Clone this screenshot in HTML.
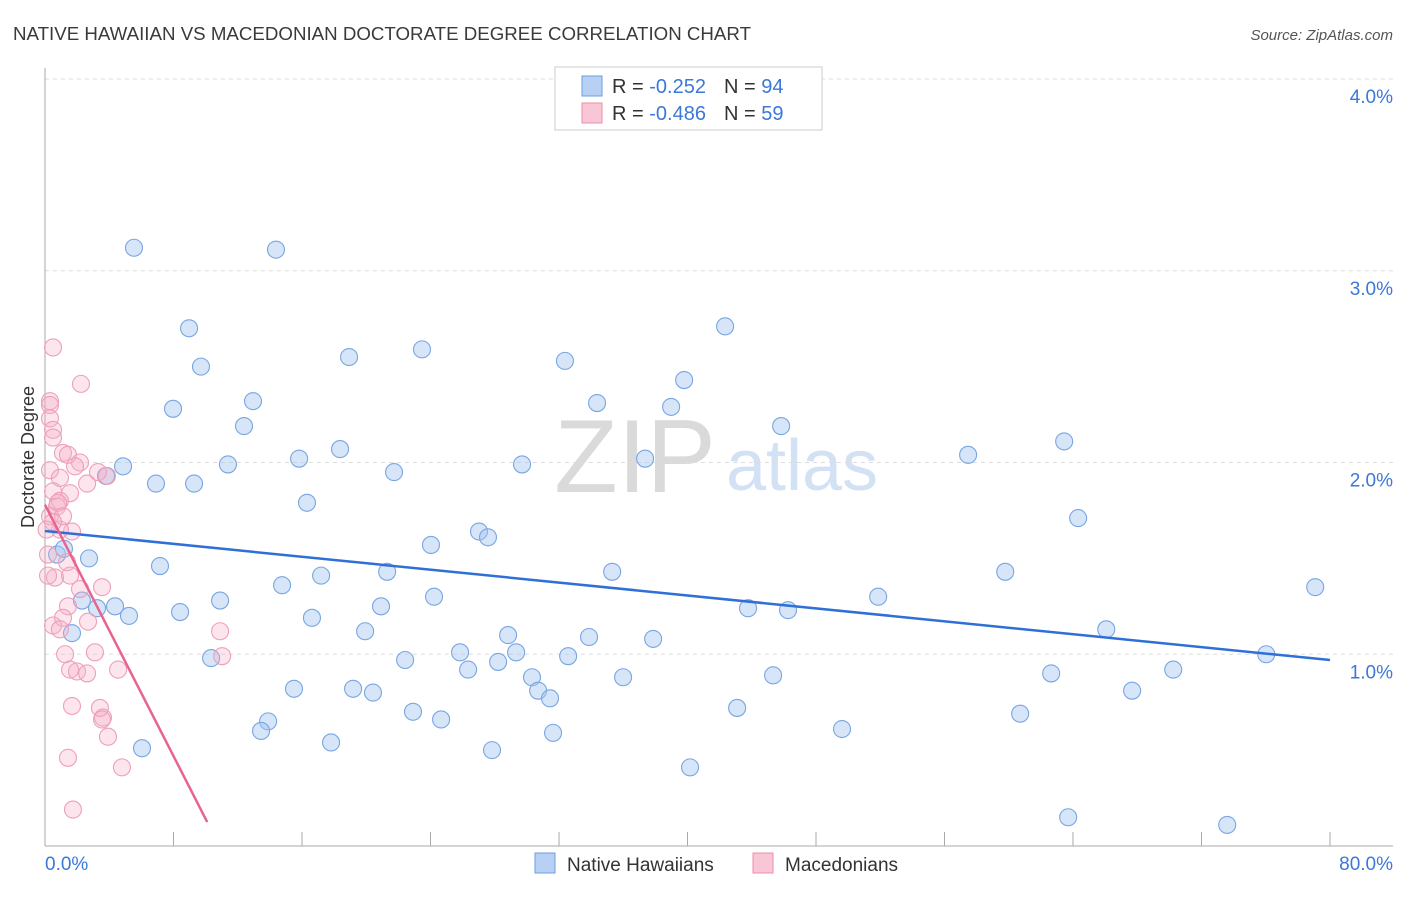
<!DOCTYPE html>
<html><head><meta charset="utf-8"><style>
body{margin:0;background:#fff;font-family:"Liberation Sans",sans-serif}
svg text{font-family:"Liberation Sans",sans-serif}
</style></head><body>
<svg id="c" width="1406" height="892" xmlns="http://www.w3.org/2000/svg">
<text x="13" y="40" font-size="18" fill="#3a3a3a" textLength="738" lengthAdjust="spacingAndGlyphs">NATIVE HAWAIIAN VS MACEDONIAN DOCTORATE DEGREE CORRELATION CHART</text>
<text x="1393" y="40" font-size="15" font-style="italic" fill="#555" text-anchor="end">Source: ZipAtlas.com</text>
<text x="635" y="492" font-size="104" font-family="Liberation Serif" fill="#dadada" text-anchor="middle">ZIP</text>
<text x="802" y="490" font-size="72" fill="#d3e1f5" text-anchor="middle">atlas</text>
<g id="grid"></g>
<g id="pts"></g>
<g id="lines"></g>
<text transform="translate(34,457) rotate(-90)" font-size="18" fill="#333" text-anchor="middle">Doctorate Degree</text>
<g>
<rect x="555" y="67" width="267" height="63" fill="#fff" stroke="#ccc"/>
<rect x="582" y="76" width="20" height="20" fill="#b8d0f4" stroke="#6a9fe0"/>
<rect x="582" y="103" width="20" height="20" fill="#f9c6d6" stroke="#eb8fae"/>
<text x="612" y="93" font-size="20" fill="#333">R = <tspan fill="#3b78d8">-0.252</tspan><tspan dx="18">N = </tspan><tspan fill="#3b78d8">94</tspan></text>
<text x="612" y="120" font-size="20" fill="#333">R = <tspan fill="#3b78d8">-0.486</tspan><tspan dx="18">N = </tspan><tspan fill="#3b78d8">59</tspan></text>
</g>
<g>
<rect x="535" y="853" width="20" height="20" fill="#b8d0f4" stroke="#6a9fe0"/>
<text x="567" y="871" font-size="19" fill="#333">Native Hawaiians</text>
<rect x="753" y="853" width="20" height="20" fill="#f9c6d6" stroke="#eb8fae"/>
<text x="785" y="871" font-size="19" fill="#333">Macedonians</text>
</g>
</svg>
<script>
const yTicks=[1,2,3,4];
const xTickVals=[0,8,16,24,32,40,48,56,64,72,80];
const blueX=[5.54,14.38,8.97,9.71,7.97,12.95,12.39,4.86,6.91,9.28,11.39,15.82,18.37,18.93,23.47,16.31,21.73,29.70,32.37,34.37,37.36,38.98,39.79,42.34,45.83,57.47,63.45,64.32,24.03,27.02,27.58,21.30,17.19,14.76,7.16,2.74,0.75,1.18,2.30,3.24,4.36,5.23,1.68,8.41,10.90,16.62,20.92,24.22,19.93,10.34,22.42,25.84,26.34,28.21,28.83,29.33,32.57,33.87,35.31,37.86,30.32,30.70,31.44,35.99,43.77,46.26,45.33,51.87,43.09,49.62,59.78,66.07,62.64,70.24,67.68,76.03,79.08,60.71,15.50,19.18,20.42,13.89,13.45,17.81,22.91,24.66,31.63,27.83,40.16,6.04,63.70,73.60,3.80];
const blueY=[3.12,3.11,2.70,2.50,2.28,2.32,2.19,1.98,1.89,1.89,1.99,2.02,2.07,2.55,2.59,1.79,1.95,1.99,2.53,2.31,2.02,2.29,2.43,2.71,2.19,2.04,2.11,1.71,1.57,1.64,1.61,1.43,1.41,1.36,1.46,1.50,1.52,1.55,1.28,1.24,1.25,1.20,1.11,1.22,1.28,1.19,1.25,1.30,1.12,0.98,0.97,1.01,0.92,0.96,1.10,1.01,0.99,1.09,1.43,1.08,0.88,0.81,0.77,0.88,1.24,1.23,0.89,1.30,0.72,0.61,1.43,1.13,0.90,0.92,0.81,1.00,1.35,0.69,0.82,0.82,0.80,0.65,0.60,0.54,0.70,0.66,0.59,0.50,0.41,0.51,0.15,0.11,1.93];
const pinkX=[0.50,2.24,0.31,0.31,0.31,0.50,0.50,1.12,1.43,2.18,1.87,0.31,0.93,3.86,3.30,2.62,1.56,0.50,0.93,0.75,0.31,0.81,1.68,0.93,1.12,0.50,1.37,1.56,0.62,3.55,2.18,1.43,1.12,0.50,0.93,2.68,10.90,11.03,3.11,1.25,1.56,1.99,2.62,4.55,1.68,3.42,3.61,3.55,3.92,1.43,4.79,1.74,0.19,0.19,0.10];
const pinkY=[2.60,2.41,2.32,2.30,2.23,2.17,2.13,2.05,2.04,2.00,1.98,1.96,1.92,1.93,1.95,1.89,1.84,1.85,1.80,1.77,1.72,1.79,1.64,1.65,1.72,1.69,1.48,1.41,1.40,1.35,1.34,1.25,1.19,1.15,1.13,1.17,1.12,0.99,1.01,1.00,0.92,0.91,0.90,0.92,0.73,0.72,0.67,0.66,0.57,0.46,0.41,0.19,1.52,1.41,1.65];
const blueTrend=[1.643,0.970];
const pinkTrend=[1.78,0.125];
const pinkTrendEndX=10.1;
const X=v=>45+v*(1285/80), Y=v=>846-v*191.75;
const NS="http://www.w3.org/2000/svg";
function mk(t,a,p){const e=document.createElementNS(NS,t);for(const k in a)e.setAttribute(k,a[k]);p.appendChild(e);return e;}
const g=document.getElementById('grid');
yTicks.forEach(v=>{
 const l=mk('line',{x1:45,x2:1393,y1:Y(v),y2:Y(v),stroke:'#ddd','stroke-dasharray':'4,4'},g);
 
 
 const t=mk('text',{x:1393,y:Y(v)+24,'font-size':19,fill:'#3b78d8','text-anchor':'end'},g);
 t.textContent=v.toFixed(1)+'%';
 
 
});
const ax=mk('line',{x1:45,x2:1393,y1:846,y2:846,stroke:'#aaa'},g);


const ay=mk('line',{x1:45,x2:45,y1:68,y2:846,stroke:'#aaa'},g);


xTickVals.forEach(v=>{
 const l=mk('line',{x1:X(v),x2:X(v),y1:832,y2:846,stroke:'#aaa'},g);
 
 
});
const t0=mk('text',{x:45,y:870,'font-size':19,fill:'#3b78d8'},g);t0.textContent=xTickVals[0].toFixed(1)+'%';


const t1=mk('text',{x:1393,y:870,'font-size':19,fill:'#3b78d8','text-anchor':'end'},g);t1.textContent=xTickVals[xTickVals.length-1].toFixed(1)+'%';


const p=document.getElementById('pts');
blueX.forEach((x,i)=>{
 const c=mk('circle',{cx:X(x),cy:Y(blueY[i]),r:8.5,fill:'rgba(165,198,240,0.45)',stroke:'#78a6e2','stroke-width':1.1},p);
 
 
});
pinkX.forEach((x,i)=>{
 const c=mk('circle',{cx:X(x),cy:Y(pinkY[i]),r:8.5,fill:'rgba(245,175,198,0.32)',stroke:'#eea0b9','stroke-width':1.1},p);
 
 
});
const L=document.getElementById('lines');
const bl=mk('line',{x1:X(0),y1:Y(blueTrend[0]),x2:X(80),y2:Y(blueTrend[1]),stroke:'#2f6fd6','stroke-width':2.5},L);


const pl=mk('line',{x1:X(0),y1:Y(pinkTrend[0]),x2:X(pinkTrendEndX),y2:Y(pinkTrend[1]),stroke:'#e8648e','stroke-width':2.5},L);


</script>
</body></html>
